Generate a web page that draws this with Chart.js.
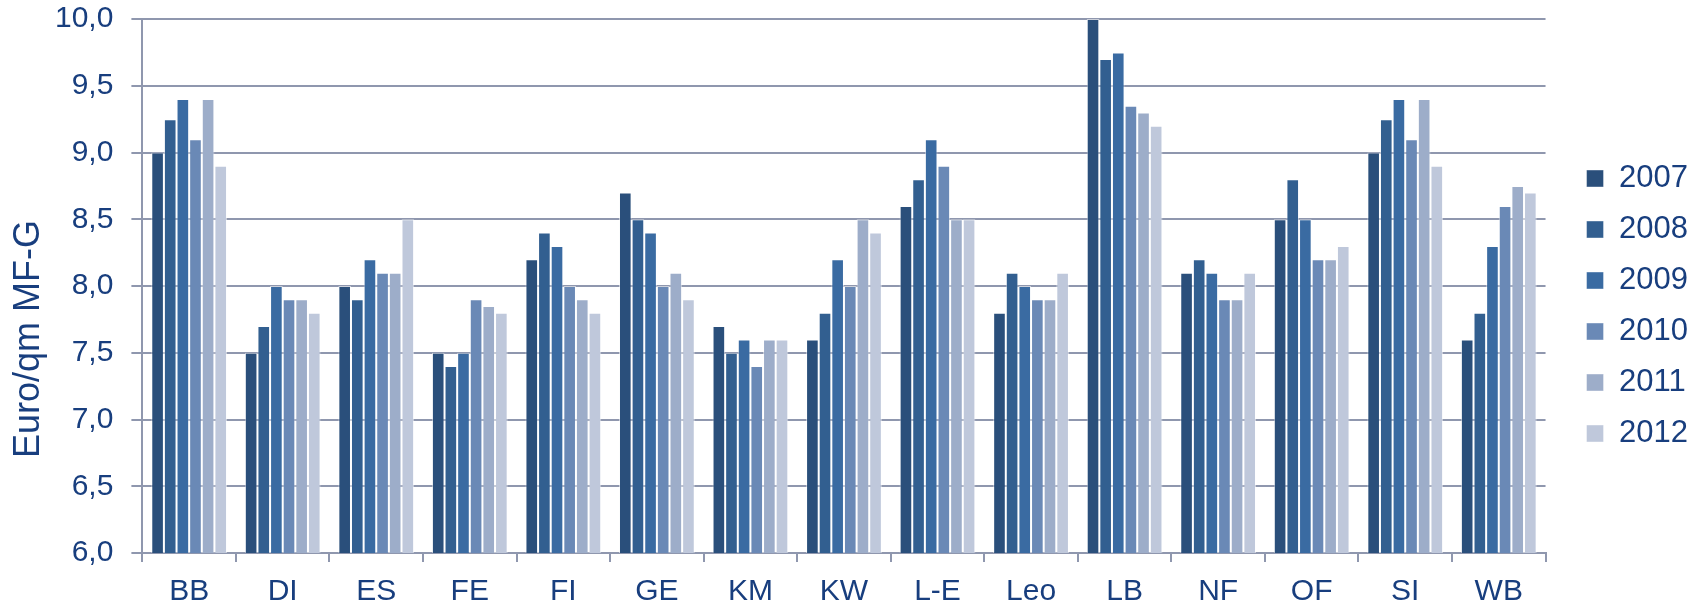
<!DOCTYPE html>
<html>
<head>
<meta charset="utf-8">
<script src="https://cdn.jsdelivr.net/npm/chart.js@4"></script>
<style>
    body { margin: 0; background: #fff; }
    #wrap { width: 1701px; height: 606px; }
</style>
</head>
<body>
<div id="wrap"><canvas id="priceChart"></canvas></div>
<script>
const regions = ["BB", "DI", "ES", "FE", "FI", "GE", "KM", "KW", "L-E", "Leo", "LB", "NF", "OF", "SI", "WB"];
const years = ["2007", "2008", "2009", "2010", "2011", "2012"];

const v2007 = [9.0, 7.5, 8.0, 7.5, 8.2, 8.7, 7.7, 7.6, 8.6, 7.8, 10.0, 8.1, 8.5, 9.0, 7.6];
const v2008 = [9.25, 7.7, 7.9, 7.4, 8.4, 8.5, 7.5, 7.8, 8.8, 8.1, 9.7, 8.2, 8.8, 9.25, 7.8];
const v2009 = [9.4, 8.0, 8.2, 7.5, 8.3, 8.4, 7.6, 8.2, 9.1, 8.0, 9.75, 8.1, 8.5, 9.4, 8.3];
const v2010 = [9.1, 7.9, 8.1, 7.9, 8.0, 8.0, 7.4, 8.0, 8.9, 7.9, 9.35, 7.9, 8.2, 9.1, 8.6];
const v2011 = [9.4, 7.9, 8.1, 7.85, 7.9, 8.1, 7.6, 8.5, 8.5, 7.9, 9.3, 7.9, 8.2, 9.4, 8.75];
const v2012 = [8.9, 7.8, 8.5, 7.8, 7.8, 7.9, 7.6, 8.4, 8.5, 8.1, 9.2, 8.1, 8.3, 8.9, 8.7];

const yTitle = "Euro/qm MF-G";
const yMin = 6, yMax = 10, yStep = 0.5;

const barColors = ["#2A4F7B", "#325F90", "#3A6BA2", "#6A89B6", "#9DADC9", "#BFC8DB"];
const textColor = "#183E7E";
const gridColor = "#8F97AE";
const fontFamily = '"Liberation Sans", Arial, sans-serif';

const seriesValues = [v2007, v2008, v2009, v2010, v2011, v2012];

// move legend a bit to the right / down like in the original
const legendNudge = {
    id: "legendNudge",
    afterLayout(chart) {
        const lg = chart.legend;
        lg.left += 21;
        lg.right += 21;
        lg.top += 3;
        lg.bottom += 3;
    },
};

// rotated y axis title, sits a bit below the middle of the plot
const axisTitle = {
    id: "axisTitle",
    afterDraw(chart) {
        const { ctx, chartArea } = chart;
        ctx.save();
        ctx.translate(chartArea.left - 113, (chartArea.top + chartArea.bottom) / 2 + 53);
        ctx.rotate(-Math.PI / 2);
        ctx.font = "36px " + fontFamily;
        ctx.fillStyle = textColor;
        ctx.textAlign = "center";
        ctx.textBaseline = "middle";
        ctx.fillText(yTitle, 0, 0);
        ctx.restore();
    },
};

new Chart(document.getElementById("priceChart"), {
    type: "bar",
    data: {
        labels: regions,
        datasets: years.map((year, i) => ({
            label: year,
            data: seriesValues[i],
            backgroundColor: barColors[i],
            borderColor: "rgba(255,255,255,0.55)",
            borderWidth: { left: 1, right: 1, top: 1, bottom: 0 },
            categoryPercentage: 0.81,
            barPercentage: 1.0,
        })),
    },
    options: {
        responsive: true,
        maintainAspectRatio: false,
        animation: false,
        layout: { padding: { left: 37, right: 24, top: 0, bottom: 0 } },
        plugins: {
            legend: {
                position: "right",
                labels: {
                    boxWidth: 17,
                    boxHeight: 17,
                    padding: 20,
                    color: textColor,
                    font: { family: fontFamily, size: 31 },
                },
            },
            tooltip: { enabled: false },
        },
        scales: {
            x: {
                grid: {
                    display: true,
                    drawOnChartArea: false,
                    drawTicks: true,
                    tickLength: 9,
                    color: gridColor,
                    lineWidth: 2,
                    offset: true,
                },
                border: { color: gridColor, width: 2 },
                ticks: {
                    color: textColor,
                    padding: 15,
                    font: { family: fontFamily, size: 30, lineHeight: 1 },
                },
                afterFit(scale) {
                    scale.height = 53;
                },
            },
            y: {
                min: yMin,
                max: yMax,
                grid: { color: gridColor, lineWidth: 2, tickLength: 11 },
                border: { color: gridColor, width: 2 },
                ticks: {
                    stepSize: yStep,
                    color: textColor,
                    padding: 18,
                    font: { family: fontFamily, size: 30 },
                    callback: (v) => v.toFixed(1).replace(".", ","),
                },
                afterFit(scale) {
                    scale.paddingTop = 19;
                    scale.paddingBottom = 0;
                },
            },
        },
    },
    plugins: [legendNudge, axisTitle],
});
</script>
</body>
</html>
